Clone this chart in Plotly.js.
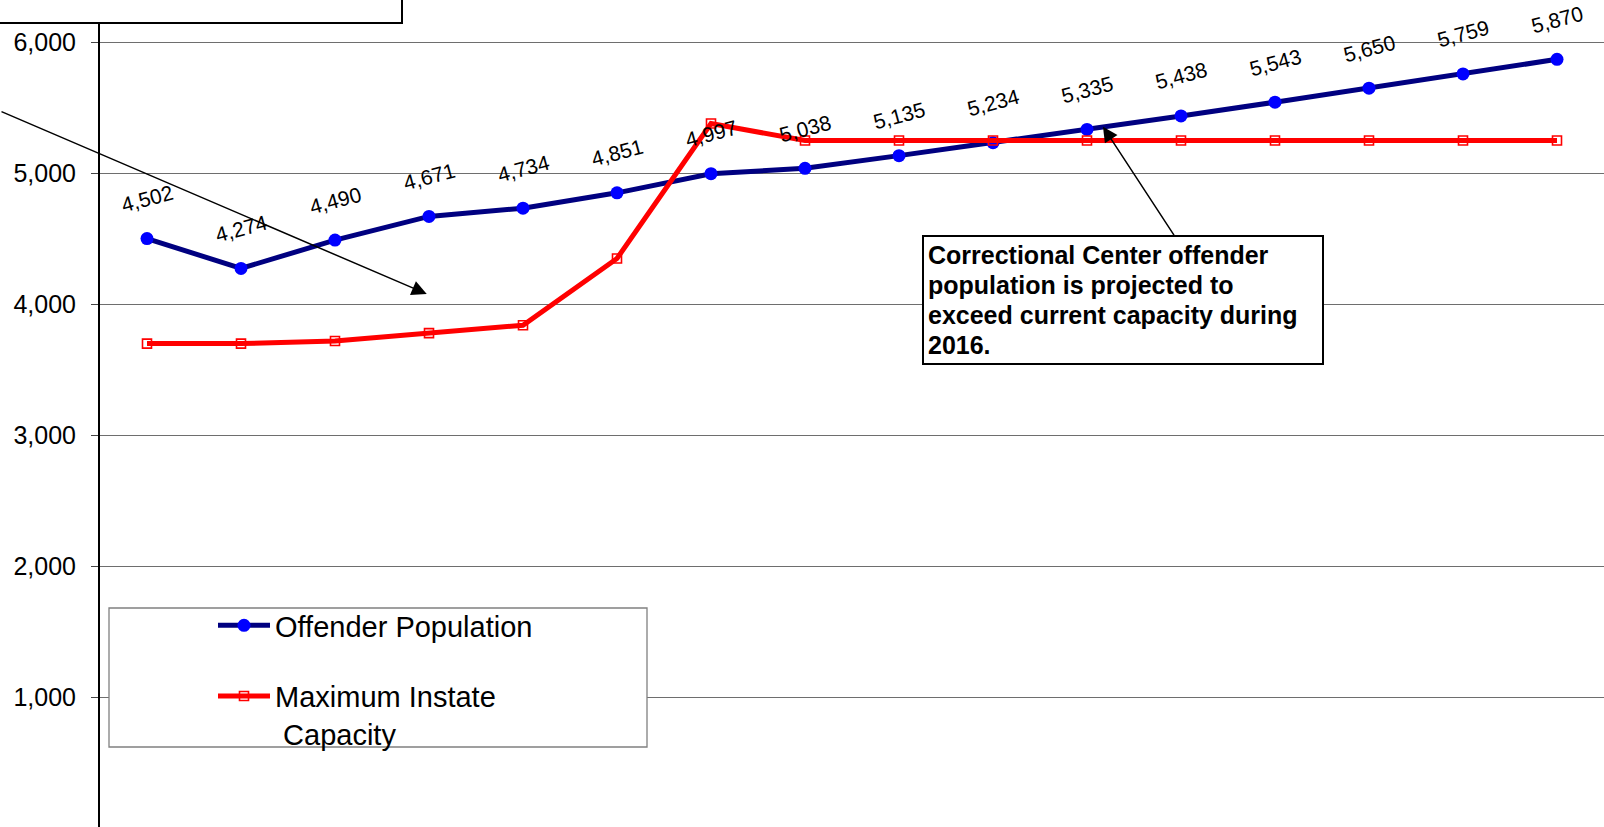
<!DOCTYPE html>
<html>
<head>
<meta charset="utf-8">
<script src="https://cdn.plot.ly/plotly-3.0.1.min.js"></script>
<style>html,body{margin:0;padding:0;background:#fff;}#chart{width:1604px;height:827px;}</style>
</head>
<body>
<div id="chart"></div>
<script>
// ---- data ----
var periods = ['0','1','2','3','4','5','6','7','8','9','10','11','12','13','14','15'];
var offenderPopulation = [4502, 4274, 4490, 4671, 4734, 4851, 4997, 5038, 5135, 5234, 5335, 5438, 5543, 5650, 5759, 5870];
var instateCapacity = [3700, 3700, 3720, 3780, 3840, 4350, 5380, 5250, 5250, 5250, 5250, 5250, 5250, 5250, 5250, 5250];
var yTickValues = [1000, 2000, 3000, 4000, 5000, 6000];
var seriesNames = ['Offender Population', 'Maximum Instate<br>\u00a0Capacity'];
var calloutLines = ['Correctional Center offender', 'population is projected to', 'exceed current capacity during', '2016.'];

// ---- layout helpers (pixel -> paper) ----
var W = 1604, H = 827, ML = 100, MR = 0, MT = 0, MB = 0;
var PW = W - ML - MR, PH = H - MT - MB;
function px(x) { return (x - ML) / PW; }
function py(y) { return 1 - (y - MT) / PH; }

var FONT = 'Liberation Sans, Arial, Helvetica, sans-serif';
var xIdx = periods.map(function (_, i) { return i; });

var traces = [
  {
    x: xIdx, y: offenderPopulation, type: 'scatter', mode: 'lines+markers',
    name: seriesNames[0], legendgroup: 'a',
    line: {color: '#000080', width: 5},
    marker: {symbol: 'circle', color: '#0000FF', size: 13, line: {width: 0}},
    cliponaxis: false
  },
  {
    x: xIdx, y: instateCapacity, type: 'scatter', mode: 'lines+markers',
    name: seriesNames[1], legendgroup: 'b',
    line: {color: '#FF0000', width: 5},
    marker: {symbol: 'square-open', color: '#FF0000', size: 9, line: {width: 1.6, color: '#FF0000'}},
    cliponaxis: false
  }
];

var annotations = offenderPopulation.map(function (v, i) {
  return {
    x: i, y: v, xref: 'x', yref: 'y', text: v.toLocaleString('en-US'),
    showarrow: false, textangle: -15, yshift: 40,
    font: {family: FONT, size: 21, color: '#000'}
  };
});

// long arrow from the off-screen box at top-left
annotations.push({
  x: 2.976, y: 4079, xref: 'x', yref: 'y', text: '', showarrow: true,
  ax: -447, ay: -183, axref: 'pixel', ayref: 'pixel',
  arrowhead: 2, arrowsize: 2, arrowwidth: 1.5, arrowcolor: '#000'
});
// arrow from callout to the crossing
annotations.push({
  x: 10.17, y: 5356, xref: 'x', yref: 'y', text: '', showarrow: true,
  ax: 72, ay: 110, axref: 'pixel', ayref: 'pixel',
  arrowhead: 2, arrowsize: 2, arrowwidth: 1.5, arrowcolor: '#000'
});
// callout text lines
calloutLines.forEach(function (t, k) {
  annotations.push({
    x: px(926), y: py(255 + 30 * k), xref: 'paper', yref: 'paper', xanchor: 'left', yanchor: 'middle',
    text: '<b>' + t + '</b>', showarrow: false, align: 'left',
    font: {family: FONT, size: 25, color: '#000'}
  });
});

var shapes = [
  // partial text box at top-left
  {type: 'rect', xref: 'paper', yref: 'paper', x0: px(-10), x1: px(402), y0: py(23), y1: py(-10),
   line: {color: '#000', width: 2}, fillcolor: '#fff', layer: 'above'},
  // callout frame
  {type: 'rect', xref: 'paper', yref: 'paper', x0: px(923), x1: px(1323), y0: py(364), y1: py(236),
   line: {color: '#000', width: 2}, fillcolor: '#fff', layer: 'above'},
  // legend frame
  {type: 'rect', xref: 'paper', yref: 'paper', x0: px(109), x1: px(647), y0: py(747), y1: py(608),
   line: {color: '#808080', width: 1.3}, fillcolor: '#fff', layer: 'above'}
];

var layout = {
  width: W, height: H,
  margin: {l: ML, r: MR, t: MT, b: MB, pad: 0},
  paper_bgcolor: '#fff', plot_bgcolor: '#fff',
  font: {family: FONT, color: '#000'},
  showlegend: true,
  legend: {
    x: px(213), y: py(600), xanchor: 'left', yanchor: 'top',
    bgcolor: 'rgba(0,0,0,0)', borderwidth: 0,
    font: {family: FONT, size: 29, color: '#000'},
    itemwidth: 52, valign: 'top', traceorder: 'grouped', tracegroupgap: 30
  },
  xaxis: {
    range: [-0.5, 15.5], showgrid: false, zeroline: false, showline: false,
    showticklabels: false, ticks: '', fixedrange: true
  },
  yaxis: {
    range: [10, 6323], tickvals: yTickValues, tickformat: ',d',
    showgrid: true, gridcolor: '#6e6e6e', gridwidth: 1, zeroline: false,
    showline: true, linecolor: '#000', linewidth: 2,
    ticks: 'outside', ticklen: 7, tickcolor: '#444', tickwidth: 1,
    ticklabelstandoff: 10,
    tickfont: {family: FONT, size: 25, color: '#000'}
  },
  annotations: annotations,
  shapes: shapes
};

Plotly.newPlot('chart', traces, layout, {displayModeBar: false, staticPlot: true});
</script>
</body>
</html>
